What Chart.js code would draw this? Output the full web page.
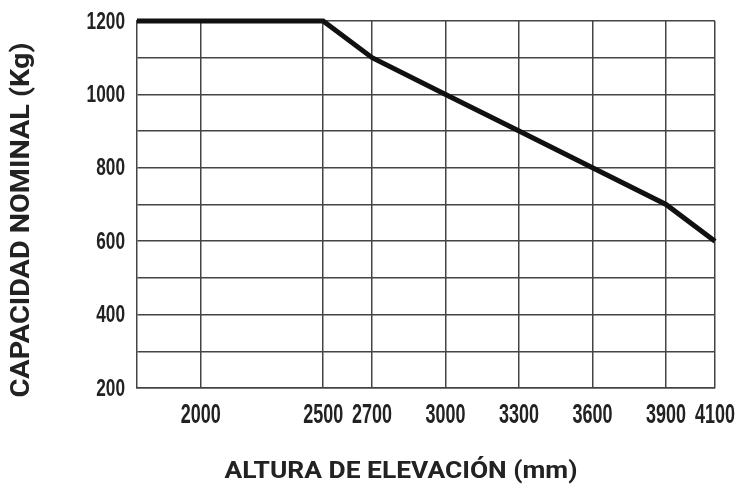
<!DOCTYPE html>
<html>
<head>
<meta charset="utf-8">
<script src="https://cdn.jsdelivr.net/npm/chart.js@4"></script>
<style>
  html, body { margin: 0; padding: 0; background: #fff; }
  #wrap { width: 741px; height: 496px; }
</style>
</head>
<body>
<div id="wrap"><canvas id="chart"></canvas></div>
<script>
// lift height (mm) vs rated capacity (kg)
const heights = [1740, 2500, 2700, 3000, 3300, 3600, 3900, 4100];
const capacities = [1200, 1200, 1100, 1000, 900, 800, 700, 600];
const xTicks = [2000, 2500, 2700, 3000, 3300, 3600, 3900, 4100];
const yTicks = [200, 300, 400, 500, 600, 700, 800, 900, 1000, 1100, 1200];
const yLabelTicks = [200, 400, 600, 800, 1000, 1200];
const xTitle = "ALTURA DE ELEVACIÓN (mm)";
const yTitle = "CAPACIDAD NOMINAL (Kg)";

const gridColor = "#444";

// text squeezed/stretched to a given width, the original uses a narrow face
function fitText(ctx, text, x, y, w) {
  const m = ctx.measureText(text).width;
  ctx.save();
  ctx.translate(x, y);
  ctx.scale(w / m, 1);
  ctx.fillText(text, 0, 0);
  ctx.restore();
}

const labels = {
  id: "labels",
  afterDraw(chart) {
    const ctx = chart.ctx;
    const xs = chart.scales.x, ys = chart.scales.y;
    ctx.save();
    ctx.fillStyle = "#222";
    ctx.textBaseline = "middle";

    // tick labels
    ctx.textAlign = "center";
    ctx.font = "bold 28px 'Liberation Sans'";
    xTicks.forEach(v => {
      const t = String(v);
      fitText(ctx, t, xs.getPixelForValue(v), 415, 10 * t.length);
    });
    ctx.textAlign = "right";
    ctx.font = "bold 24px 'Liberation Sans'";
    yLabelTicks.forEach(v => {
      const t = String(v);
      fitText(ctx, t, 125, ys.getPixelForValue(v) + 1, 9.6 * t.length);
    });

    // axis titles
    ctx.textAlign = "center";
    ctx.font = "bold 23px Roboto";
    fitText(ctx, xTitle, 401, 472, 353);
    ctx.font = "bold 25px Roboto";
    ctx.translate(23, 220);
    ctx.rotate(-Math.PI / 2);
    fitText(ctx, yTitle, 0, 0, 355);
    ctx.restore();
  }
};

new Chart(document.getElementById("chart"), {
  type: "line",
  data: {
    datasets: [{
      data: heights.map((h, i) => ({ x: h, y: capacities[i] })),
      borderColor: "#111",
      borderWidth: 5,
      pointRadius: 0,
      tension: 0,
      clip: false
    }]
  },
  options: {
    responsive: true,
    maintainAspectRatio: false,
    animation: false,
    layout: { padding: { top: 21, right: 26, left: 0, bottom: 0 } },
    plugins: { legend: { display: false }, tooltip: { enabled: false } },
    scales: {
      x: {
        type: "linear",
        min: 1740,
        max: 4100,
        afterBuildTicks(scale) { scale.ticks = xTicks.map(v => ({ value: v })); },
        afterFit(scale) {
          scale.height = 108;
          scale.paddingLeft = 0;
          scale.paddingRight = 0;
        },
        ticks: { display: false },
        grid: { color: gridColor, lineWidth: 1.5, drawTicks: false },
        border: { display: true, color: gridColor, width: 1.5 }
      },
      y: {
        min: 200,
        max: 1200,
        afterBuildTicks(scale) { scale.ticks = yTicks.map(v => ({ value: v })); },
        afterFit(scale) {
          scale.width = 137;
          scale.paddingTop = 0;
          scale.paddingBottom = 0;
        },
        ticks: { display: false },
        grid: { color: gridColor, lineWidth: 1.5, drawTicks: false },
        border: { display: true, color: gridColor, width: 1.5 }
      }
    }
  },
  plugins: [labels]
});
</script>
</body>
</html>
